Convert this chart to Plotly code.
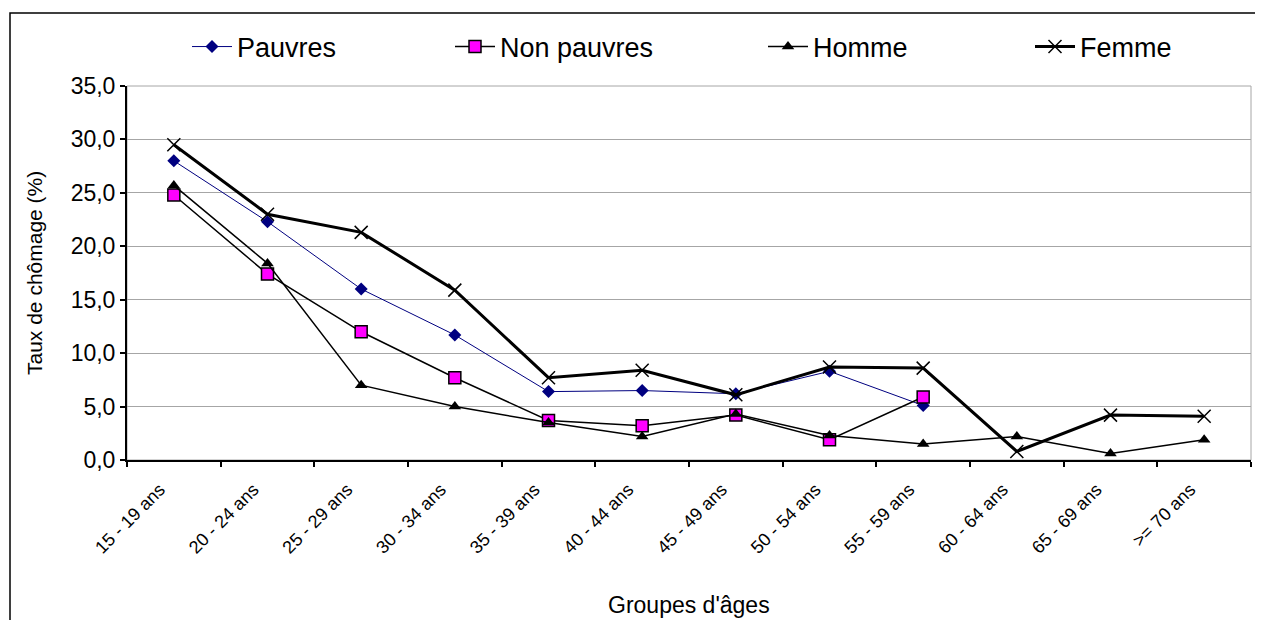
import plotly.graph_objects as go

# age groups and unemployment rates (%)
groupes = ["15 - 19 ans", "20 - 24 ans", "25 - 29 ans", "30 - 34 ans", "35 - 39 ans",
           "40 - 44 ans", "45 - 49 ans", "50 - 54 ans", "55 - 59 ans", "60 - 64 ans",
           "65 - 69 ans", ">= 70 ans"]
pauvres = [28.0, 22.3, 16.0, 11.7, 6.4, 6.5, 6.2, 8.3, 5.1]
non_pauvres = [24.8, 17.4, 12.0, 7.7, 3.7, 3.2, 4.2, 1.9, 5.9]
homme = [25.7, 18.4, 7.0, 5.0, 3.5, 2.2, 4.3, 2.3, 1.5, 2.2, 0.6, 1.9]
femme = [29.5, 23.0, 21.3, 15.9, 7.7, 8.4, 6.1, 8.7, 8.6, 0.8, 4.2, 4.1]
y_ticks = [0, 5, 10, 15, 20, 25, 30, 35]

FONT = "Arial, Liberation Sans, sans-serif"

# the page puts the figure 8px in from the top-left corner
OFF = 8
W, H = 1263 - OFF, 620 - OFF
# plot area on the page: x 127..1243, y 86..460
L, R, T, B = 127 - OFF, 1263 - OFF - 1243, 86 - OFF, 620 - 460
pw, ph = W - L - R, H - T - B


def px_x(p):
    # page pixel -> paper x
    return (p - OFF - L) / pw


def px_y(p):
    # page pixel -> paper y
    return (H - B - (p - OFF)) / ph


fig = go.Figure()

fig.add_trace(go.Scatter(
    x=groupes[:len(pauvres)], y=pauvres, name="Pauvres", mode="lines+markers",
    line=dict(color="#000080", width=1),
    marker=dict(symbol="diamond", size=10, color="#000080"),
    legend="legend"))
fig.add_trace(go.Scatter(
    x=groupes[:len(non_pauvres)], y=non_pauvres, name="Non pauvres", mode="lines+markers",
    line=dict(color="black", width=1.5),
    marker=dict(symbol="square", size=12, color="#FF00FF", line=dict(color="black", width=1.5)),
    legend="legend2"))
fig.add_trace(go.Scatter(
    x=groupes, y=homme, name="Homme", mode="lines+markers",
    line=dict(color="black", width=1.5),
    marker=dict(symbol="triangle-up", size=11, color="black"),
    legend="legend3"))
fig.add_trace(go.Scatter(
    x=groupes, y=femme, name="Femme", mode="lines+markers",
    line=dict(color="black", width=3),
    marker=dict(symbol="x-thin", size=13, color="black", line=dict(color="black", width=1.5)),
    legend="legend4"))

leg_common = dict(orientation="h", yanchor="middle", xanchor="left",
                  font=dict(family=FONT, size=27, color="black"),
                  bgcolor="rgba(0,0,0,0)", itemwidth=40)

# chart frame: left and top edges only (right and bottom fall outside the page)
fx0, fy0 = px_x(10), px_y(13)
fx1, fy1 = px_x(1290), px_y(640)
frame_path = f"M {fx0},{fy1} L {fx0},{fy0} L {fx1},{fy0}"

fig.update_layout(
    width=W, height=H,
    margin=dict(l=L, r=R, t=T, b=B),
    paper_bgcolor="white", plot_bgcolor="white",
    separators=", ",
    showlegend=True,
    font=dict(family=FONT, size=18, color="black"),
    legend=dict(x=px_x(187), y=px_y(47), **leg_common),
    legend2=dict(x=px_x(450), y=px_y(47), **leg_common),
    legend3=dict(x=px_x(763), y=px_y(47), **leg_common),
    legend4=dict(x=px_x(1030), y=px_y(47), **leg_common),
    xaxis=dict(
        type="category", categoryorder="array", categoryarray=groupes,
        tickson="boundaries", ticks="outside", ticklen=5, tickwidth=2, tickcolor="black",
        showline=True, linecolor="black", linewidth=2,
        showgrid=False, tickangle=-45, tickfont=dict(size=18),
        ticklabelshift=-14, ticklabelstandoff=10,
        range=[-0.5, len(groupes) - 0.5]),
    yaxis=dict(
        range=[0, 35], tickvals=y_ticks, tickformat=".1f",
        ticks="outside", ticklen=5, tickwidth=2, tickcolor="black",
        showline=True, linecolor="black", linewidth=2,
        showgrid=True, gridcolor="#a6a6a6", gridwidth=1, zeroline=False,
        tickfont=dict(size=23)),
    shapes=[
        dict(type="rect", xref="paper", yref="paper", x0=0, x1=1, y0=0, y1=1,
             line=dict(color="#a6a6a6", width=1), layer="below"),
        dict(type="path", xref="paper", yref="paper", path=frame_path,
             line=dict(color="black", width=1.5)),
    ],
    annotations=[
        dict(text="Groupes d'âges", xref="paper", yref="paper", x=0.5, y=px_y(605),
             xanchor="center", yanchor="middle", showarrow=False, font=dict(size=23)),
        dict(text="Taux de chômage (%)", xref="paper", yref="paper", x=px_x(34), y=0.5,
             xanchor="center", yanchor="middle",
             textangle=-90, showarrow=False, font=dict(size=21)),
    ],
)

fig.write_html("out.html")
